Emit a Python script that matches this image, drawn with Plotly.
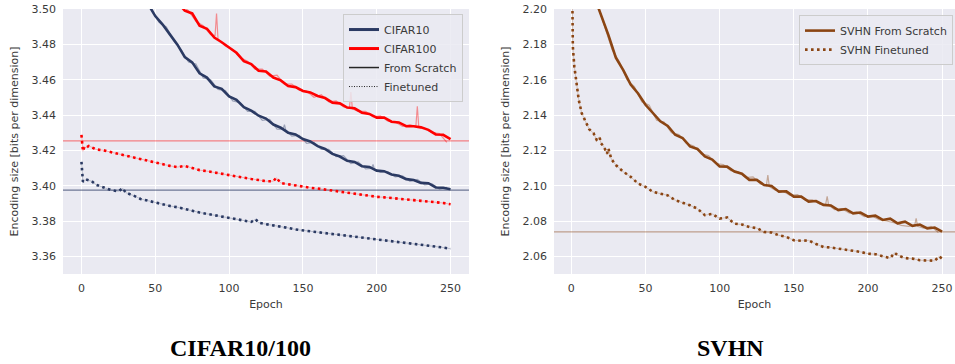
import plotly.graph_objects as go

# ---------------- data ----------------
# CIFAR panel
c10_scr_ep = list(range(40, 251, 5))
c10_scr = [3.5090, 3.5030, 3.4960, 3.4912, 3.4855, 3.4798, 3.4728, 3.4698, 3.4636, 3.4612,
           3.4562, 3.4548, 3.4505, 3.4486, 3.4444, 3.4425, 3.4396, 3.4380, 3.4346, 3.4328,
           3.4300, 3.4290, 3.4264, 3.4250, 3.4224, 3.4208, 3.4180, 3.4165, 3.4141, 3.4134,
           3.4110, 3.4106, 3.4085, 3.4082, 3.4063, 3.4056, 3.4037, 3.4032, 3.4016, 3.4014,
           3.3990, 3.3988, 3.3980]
c10_run_ep = [42.5, 47.5, 52.5, 57.5, 62.5, 67.5, 72.5, 77.5, 82.5, 87.5, 92.5, 97.5, 102.5,
              107.5, 112.5, 117.5, 122.5, 127.5, 132.5, 136.5, 137.5, 138.5, 142.5, 147.5,
              152.5, 157.5, 162.5, 167.5, 172.5, 177.5, 182.5, 187.5, 192.5, 196.5, 197.5,
              198.5, 202.5, 207.5, 212.5, 217.5, 222.5, 227.5, 232.5, 237.5, 242.5, 247.5]
c10_run = [3.5058, 3.4998, 3.4925, 3.4898, 3.4820, 3.4772, 3.4700, 3.4688, 3.4610, 3.4600,
           3.4545, 3.4538, 3.4480, 3.4470, 3.4420, 3.4420, 3.4370, 3.4375, 3.4320, 3.4318,
           3.4345, 3.4312, 3.4280, 3.4285, 3.4240, 3.4245, 3.4205, 3.4205, 3.4165, 3.4170,
           3.4125, 3.4135, 3.4095, 3.4098, 3.4120, 3.4092, 3.4075, 3.4080, 3.4050, 3.4055,
           3.4025, 3.4035, 3.4005, 3.4010, 3.3980, 3.3990]

c100_scr_ep = list(range(65, 251, 5))
c100_scr = [3.5040, 3.4990, 3.4975, 3.4905, 3.4888, 3.4838, 3.4812, 3.4780, 3.4752, 3.4705,
            3.4688, 3.4650, 3.4646, 3.4612, 3.4596, 3.4564, 3.4558, 3.4536, 3.4528, 3.4508,
            3.4496, 3.4470, 3.4466, 3.4442, 3.4438, 3.4413, 3.4406, 3.4385, 3.4386, 3.4362,
            3.4358, 3.4337, 3.4336, 3.4330, 3.4316, 3.4290, 3.4288, 3.4264]
c100_run_ep = [67.5, 72.5, 77.5, 82.5, 87.5, 90.5, 91.5, 92.5, 97.5, 102.5, 107.5, 112.5,
               117.5, 122.5, 127.5, 132.5, 137.5, 142.5, 147.5, 152.5, 157.5, 162.5, 167.5,
               172.5, 177.5, 181.5, 182.5, 183.5, 187.5, 192.5, 197.5, 202.5, 207.5, 212.5,
               217.5, 222.5, 226.5, 227.5, 228.5, 232.5, 237.5, 242.5, 247.5]
c100_run = [3.5020, 3.4990, 3.4930, 3.4905, 3.4855, 3.4850, 3.4975, 3.4830, 3.4790, 3.4770,
            3.4725, 3.4705, 3.4660, 3.4660, 3.4620, 3.4625, 3.4575, 3.4575, 3.4540, 3.4535,
            3.4500, 3.4515, 3.4475, 3.4480, 3.4445, 3.4440, 3.4530, 3.4435, 3.4420, 3.4420,
            3.4390, 3.4395, 3.4365, 3.4360, 3.4335, 3.4345, 3.4335, 3.4450, 3.4330, 3.4325,
            3.4300, 3.4295, 3.4245]

c10_ft_ep = [0, 1, 2, 3, 5, 7, 10, 15, 20, 25, 28, 30, 35, 40, 45, 50, 55, 60, 65, 70, 75,
             80, 85, 90, 95, 100, 105, 110, 115, 118, 120, 125, 130, 135, 140, 145, 150,
             155, 160, 165, 170, 175, 180, 185, 190, 195, 200, 205, 210, 215, 220, 225,
             230, 235, 240, 245, 250]
c10_ft = [3.4135, 3.4022, 3.4030, 3.4035, 3.4030, 3.4025, 3.4005, 3.3990, 3.3975, 3.3968,
          3.3985, 3.3960, 3.3945, 3.3925, 3.3915, 3.3903, 3.3895, 3.3885, 3.3878, 3.3866,
          3.3858, 3.3848, 3.3840, 3.3835, 3.3825, 3.3815, 3.3808, 3.3800, 3.3795, 3.3810,
          3.3790, 3.3782, 3.3776, 3.3768, 3.3761, 3.3752, 3.3747, 3.3740, 3.3734, 3.3730,
          3.3725, 3.3718, 3.3713, 3.3708, 3.3706, 3.3698, 3.3694, 3.3690, 3.3687, 3.3680,
          3.3675, 3.3672, 3.3666, 3.3662, 3.3657, 3.3650, 3.3643]

c100_ft_ep = [0, 1, 2, 3, 5, 7, 10, 15, 20, 25, 30, 35, 40, 45, 50, 55, 60, 65, 70, 75, 80,
              85, 90, 95, 100, 105, 110, 115, 120, 125, 130, 132, 135, 140, 145, 150, 155,
              160, 165, 170, 175, 180, 185, 190, 195, 200, 205, 210, 215, 220, 225, 230,
              235, 240, 245, 250]
c100_ft = [3.4287, 3.4195, 3.4220, 3.4215, 3.4225, 3.4218, 3.4205, 3.4200, 3.4188, 3.4180,
           3.4170, 3.4160, 3.4150, 3.4140, 3.4130, 3.4120, 3.4112, 3.4105, 3.4112, 3.4100,
           3.4088, 3.4082, 3.4074, 3.4068, 3.4060, 3.4052, 3.4045, 3.4038, 3.4032, 3.4025,
           3.4025, 3.4045, 3.4015, 3.4008, 3.4000, 3.3993, 3.3988, 3.3984, 3.3978, 3.3971,
           3.3965, 3.3960, 3.3952, 3.3946, 3.3940, 3.3937, 3.3934, 3.3931, 3.3926, 3.3922,
           3.3918, 3.3914, 3.3911, 3.3908, 3.3902, 3.3895]

cifar_ref = [3.3975, 3.4253]          # CIFAR10, CIFAR100 reference levels

# SVHN panel
svhn_scr_ep = list(range(15, 251, 5))
svhn_scr = [2.2080, 2.1970, 2.1852, 2.1724, 2.1654, 2.1572, 2.1522, 2.1458, 2.1408, 2.1364,
            2.1338, 2.1288, 2.1270, 2.1222, 2.1208, 2.1165, 2.1148, 2.1109, 2.1108, 2.1080,
            2.1068, 2.1033, 2.1033, 2.1004, 2.0998, 2.0966, 2.0968, 2.0938, 2.0938, 2.0910,
            2.0913, 2.0891, 2.0888, 2.0862, 2.0868, 2.0843, 2.0848, 2.0825, 2.0830, 2.0806,
            2.0813, 2.0787, 2.0796, 2.0773, 2.0780, 2.0758, 2.0763, 2.0740]
svhn_run_ep = [17.5, 22.5, 27.5, 32.5, 37.5, 42.5, 47.5, 52.5, 57.5, 62.5, 67.5, 72.5, 77.5,
               82.5, 87.5, 92.5, 97.5, 102.5, 107.5, 112.5, 117.5, 122.5, 127.5, 131.5, 132.5,
               133.5, 137.5, 142.5, 147.5, 152.5, 157.5, 162.5, 167.5, 171.5, 172.5, 173.5,
               177.5, 182.5, 187.5, 192.5, 197.5, 202.5, 207.5, 212.5, 217.5, 222.5, 227.5,
               231.5, 232.5, 233.5, 237.5, 242.5, 247.5]
svhn_run = [2.2030, 2.1900, 2.1770, 2.1700, 2.1600, 2.1560, 2.1475, 2.1455, 2.1370, 2.1360,
            2.1300, 2.1290, 2.1240, 2.1225, 2.1180, 2.1170, 2.1125, 2.1120, 2.1085, 2.1080,
            2.1045, 2.1050, 2.1010, 2.1000, 2.1060, 2.0995, 2.0975, 2.0970, 2.0945, 2.0950,
            2.0920, 2.0920, 2.0895, 2.0895, 2.0940, 2.0890, 2.0865, 2.0870, 2.0845, 2.0850,
            2.0825, 2.0830, 2.0808, 2.0800, 2.0790, 2.0775, 2.0770, 2.0775, 2.0815, 2.0770,
            2.0760, 2.0770, 2.0735]

svhn_ft_ep = [0, 1, 2, 3, 4, 5, 7, 10, 12, 15, 17, 19, 20, 22, 24, 25, 27, 30, 35, 40, 45,
              50, 55, 60, 65, 70, 75, 80, 85, 90, 95, 100, 105, 110, 115, 120, 125, 130,
              135, 140, 145, 150, 155, 160, 165, 170, 175, 180, 185, 190, 195, 200, 205,
              210, 215, 218, 220, 225, 230, 235, 240, 245, 248, 250]
svhn_ft = [2.2600, 2.1788, 2.1675, 2.1599, 2.1542, 2.1485, 2.1410, 2.1353, 2.1320, 2.1296,
           2.1260, 2.1275, 2.1240, 2.1220, 2.1180, 2.1210, 2.1150, 2.1117, 2.1079, 2.1050,
           2.1012, 2.0993, 2.0965, 2.0955, 2.0945, 2.0918, 2.0905, 2.0889, 2.0870, 2.0833,
           2.0840, 2.0814, 2.0820, 2.0785, 2.0780, 2.0766, 2.0760, 2.0738, 2.0735, 2.0719,
           2.0710, 2.0691, 2.0688, 2.0690, 2.0670, 2.0653, 2.0650, 2.0644, 2.0640, 2.0634,
           2.0625, 2.0615, 2.0612, 2.0600, 2.0590, 2.0620, 2.0606, 2.0590, 2.0587, 2.0578,
           2.0578, 2.0575, 2.0600, 2.0587]

svhn_ref = [2.0738]

cifar_yticks = [3.36, 3.38, 3.40, 3.42, 3.44, 3.46, 3.48, 3.50]
svhn_yticks = [2.06, 2.08, 2.10, 2.12, 2.14, 2.16, 2.18, 2.20]
xticks = [0, 50, 100, 150, 200, 250]
panel_titles = ["CIFAR10/100", "SVHN"]

# ---------------- style ----------------
NAVY = "#2b3a63"
RED = "#ff0000"
BROWN = "#8b4513"
BG = "#eaeaf2"
TXT = "#3a3a3a"
FONT = "DejaVu Sans"

fig = go.Figure()

def faint(x, y, color, xa, ya, width=1.0, op=0.35):
    fig.add_trace(go.Scatter(x=x, y=y, mode="lines", xaxis=xa, yaxis=ya,
                             line=dict(color=color, width=width), opacity=op,
                             showlegend=False, hoverinfo="skip"))

# reference lines (drawn first, under curves)
for val, col, op in zip(cifar_ref, [NAVY, RED], [0.65, 0.45]):
    fig.add_trace(go.Scatter(x=[-20, 270], y=[val, val], mode="lines", xaxis="x", yaxis="y",
                             line=dict(color=col, width=1.2), opacity=op,
                             showlegend=False, hoverinfo="skip"))
for val in svhn_ref:
    fig.add_trace(go.Scatter(x=[-20, 270], y=[val, val], mode="lines", xaxis="x2", yaxis="y2",
                             line=dict(color=BROWN, width=1.2), opacity=0.45,
                             showlegend=False, hoverinfo="skip"))

# CIFAR panel
faint(c10_run_ep, c10_run, NAVY, "x", "y", 1.2, 0.4)
faint(c100_run_ep, c100_run, RED, "x", "y", 1.2, 0.4)
faint(c10_ft_ep, c10_ft, NAVY, "x", "y", 1.0, 0.25)
faint(c100_ft_ep, c100_ft, RED, "x", "y", 1.0, 0.25)
fig.add_trace(go.Scatter(x=c10_scr_ep, y=c10_scr, mode="lines", xaxis="x", yaxis="y",
                         line=dict(color=NAVY, width=2.6), showlegend=False))
fig.add_trace(go.Scatter(x=c100_scr_ep, y=c100_scr, mode="lines", xaxis="x", yaxis="y",
                         line=dict(color=RED, width=2.6), showlegend=False))
fig.add_trace(go.Scatter(x=c10_ft_ep, y=c10_ft, mode="lines", xaxis="x", yaxis="y",
                         line=dict(color=NAVY, width=2.6, dash="2.6px,3.4px"), showlegend=False))
fig.add_trace(go.Scatter(x=c100_ft_ep, y=c100_ft, mode="lines", xaxis="x", yaxis="y",
                         line=dict(color=RED, width=2.6, dash="2.6px,3.4px"), showlegend=False))

# CIFAR legend entries
fig.add_trace(go.Scatter(x=[None], y=[None], mode="lines", name="CIFAR10", xaxis="x", yaxis="y",
                         line=dict(color=NAVY, width=3), legend="legend"))
fig.add_trace(go.Scatter(x=[None], y=[None], mode="lines", name="CIFAR100", xaxis="x", yaxis="y",
                         line=dict(color=RED, width=3), legend="legend"))
fig.add_trace(go.Scatter(x=[None], y=[None], mode="lines", name="From Scratch", xaxis="x", yaxis="y",
                         line=dict(color="#262626", width=1.5), legend="legend"))
fig.add_trace(go.Scatter(x=[None], y=[None], mode="lines", name="Finetuned", xaxis="x", yaxis="y",
                         line=dict(color="#262626", width=1, dash="1px,1.5px"), legend="legend"))

# SVHN panel
faint(svhn_run_ep, svhn_run, BROWN, "x2", "y2", 1.2, 0.4)
faint(svhn_ft_ep, svhn_ft, BROWN, "x2", "y2", 1.0, 0.25)
fig.add_trace(go.Scatter(x=svhn_scr_ep, y=svhn_scr, mode="lines", xaxis="x2", yaxis="y2",
                         name="SVHN From Scratch", line=dict(color=BROWN, width=2.6),
                         legend="legend2"))
fig.add_trace(go.Scatter(x=svhn_ft_ep, y=svhn_ft, mode="lines", xaxis="x2", yaxis="y2",
                         name="SVHN Finetuned", line=dict(color=BROWN, width=2.6, dash="2.6px,3.4px"),
                         legend="legend2"))

axis_common = dict(showgrid=True, gridcolor="white", gridwidth=1.2, zeroline=False,
                   showline=False, ticks="", tickfont=dict(family=FONT, size=11, color=TXT),
                   ticklabelstandoff=6)

fig.update_layout(
    width=955, height=364,
    margin=dict(l=0, r=0, t=9, b=90),
    paper_bgcolor="white", plot_bgcolor=BG,
    font=dict(family=FONT, size=11, color=TXT),
    xaxis=dict(domain=[63/955, 469/955], range=[-12.5, 262.5], tickvals=xticks,
               title=dict(text="Epoch", standoff=6, font=dict(size=11)), anchor="y", **axis_common),
    yaxis=dict(domain=[0, 1], range=[3.35, 3.50], tickvals=cifar_yticks, tickformat=".2f",
               title=dict(text="Encoding size [bits per dimension]", standoff=10, font=dict(size=11)),
               anchor="x", **axis_common),
    xaxis2=dict(domain=[554/955, 1.0], range=[-11.7, 258.7], tickvals=xticks,
                title=dict(text="Epoch", standoff=6, font=dict(size=11)), anchor="y2", **axis_common),
    yaxis2=dict(domain=[0, 1], range=[2.05, 2.20], tickvals=svhn_yticks, tickformat=".2f",
                title=dict(text="Encoding size [bits per dimension]", standoff=10, font=dict(size=11)),
                anchor="x2", **axis_common),
    legend=dict(x=463/955, y=0.981, xanchor="right", yanchor="top",
                bgcolor="rgba(234,234,242,0.85)", bordercolor="#cccccc", borderwidth=1,
                font=dict(family=FONT, size=11, color=TXT), tracegroupgap=0, itemwidth=30),
    legend2=dict(x=953/955, y=0.977, xanchor="right", yanchor="top",
                 bgcolor="rgba(234,234,242,0.85)", bordercolor="#cccccc", borderwidth=1,
                 font=dict(family=FONT, size=11, color=TXT), tracegroupgap=0, itemwidth=30),
    showlegend=True,
)

for txt, xc in zip(panel_titles, [240/955, 730/955]):
    fig.add_annotation(text="<b>" + txt + "</b>", x=xc, y=-0.28, xref="paper", yref="paper",
                       showarrow=False, xanchor="center", yanchor="middle",
                       font=dict(family="Liberation Serif", size=24, color="black"))

fig.write_html("out.html", config={"displayModeBar": False},
               post_script="document.body.style.margin='0';document.body.style.overflow='hidden';")
